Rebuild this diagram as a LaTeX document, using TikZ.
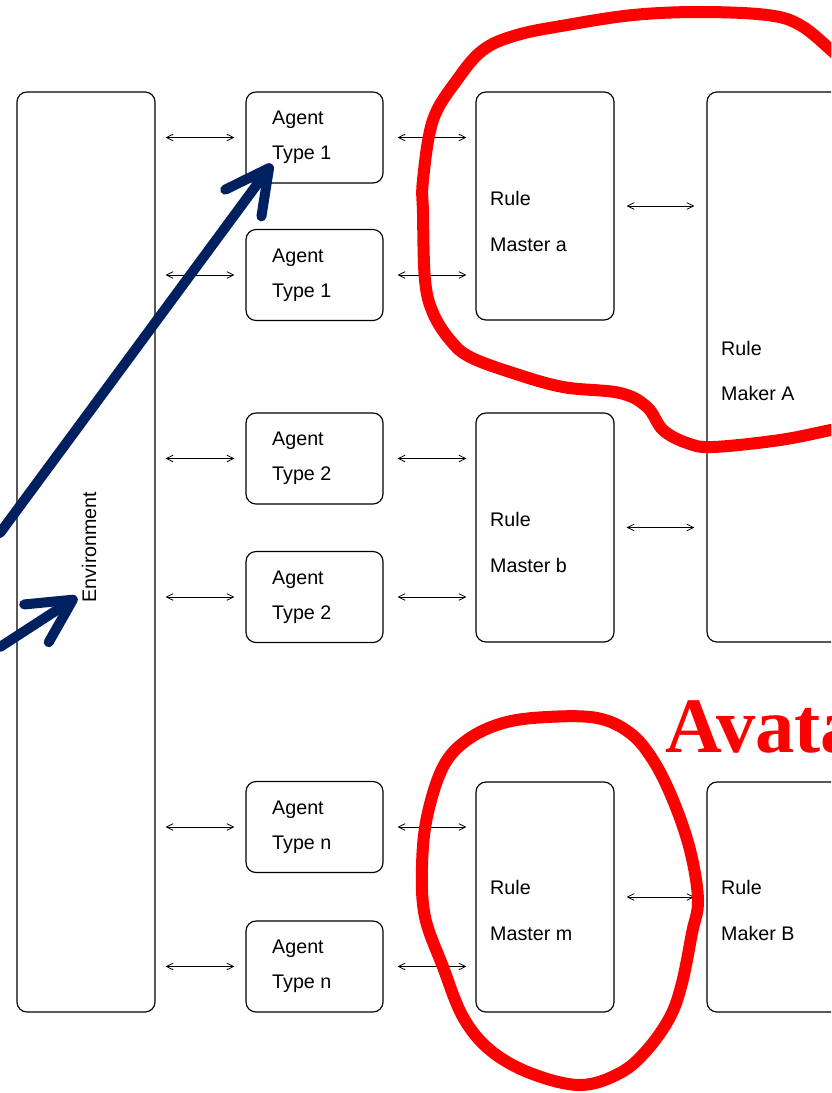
\documentclass[tikz,border=0pt]{standalone}
\usepackage{fontspec}
\setmainfont{Liberation Sans}
\newfontfamily\handfont{Liberation Serif}
\usepackage{tikz}
\usetikzlibrary{positioning}
\usetikzlibrary{arrows.meta}

\definecolor{markred}{RGB}{255,0,0}
\definecolor{penblue}{RGB}{0,32,96}

\begin{document}
\begin{tikzpicture}[x=0.03cm,y=-0.03cm,
    block/.style={draw,line width=1pt,rounded corners=0.3cm,inner sep=0pt},
    agentbox/.style={block,minimum width=4.11cm,minimum height=2.73cm},
    rulebox/.style={block,minimum width=4.14cm},
    link/.style={{Straight Barb[length=0.2cm,width=0.2cm]}-{Straight Barb[length=0.2cm,width=0.2cm]},line width=0.7pt},
    agenttxt/.style={anchor=west,inner sep=0pt,align=left,font=\fontsize{16.8}{30}\selectfont},
    ruletxt/.style={anchor=west,inner sep=0pt,align=left,font=\fontsize{16.8}{38.5}\selectfont},
    pen/.style={penblue,line width=0.3cm,line cap=round,line join=round,-{Straight Barb[length=1.3cm,width=1.35cm,round]}},
    scribble/.style={markred,line width=0.36cm,line cap=round}]
        \useasboundingbox (0,0) rectangle (831,1093);
        \fill[white] (0,0) rectangle (831,1093);
        \clip (0,0) rectangle (831,1093);

        % environment
        \node[block,minimum width=4.14cm,minimum height=27.6cm] (env) at (86,552) {};
        \node[rotate=90,inner sep=1pt,font=\fontsize{16.8}{20}\selectfont] (envtxt) at (89,547) {Environment};

        % agents
        \node[agentbox] (ag1) at (314.5,137.5) {};
        \node[agentbox] (ag2) at (314.5,275) {};
        \node[agentbox] (ag3) at (314.5,458.5) {};
        \node[agentbox] (ag4) at (314.5,597) {};
        \node[agentbox] (ag5) at (314.5,827) {};
        \node[agentbox] (ag6) at (314.5,966.5) {};
        \node[agenttxt] (tag1) at (272,137.5) {Agent\\Type 1};
        \node[agenttxt] (tag2) at (272,275.5) {Agent\\Type 1};
        \node[agenttxt] (tag3) at (272,458.5) {Agent\\Type 2};
        \node[agenttxt] (tag4) at (272,597.5) {Agent\\Type 2};
        \node[agenttxt] (tag5) at (272,827.5) {Agent\\Type n};
        \node[agenttxt] (tag6) at (272,966.5) {Agent\\Type n};

        % rule masters and makers
        \node[rulebox,minimum height=6.84cm] (ma) at (545,206) {};
        \node[rulebox,minimum height=6.87cm] (mb) at (545,527.5) {};
        \node[rulebox,minimum height=6.9cm] (mm) at (545,897) {};
        \node[rulebox,minimum height=16.5cm] (mka) at (776,367) {};
        \node[rulebox,minimum height=6.9cm] (mkb) at (776,897) {};
        \node[ruletxt] (tma) at (490,221.5) {Rule\\Master a};
        \node[ruletxt] (tmb) at (490,542.5) {Rule\\Master b};
        \node[ruletxt] (tmm) at (490,910.5) {Rule\\Master m};
        \node[ruletxt] (tmka) at (721,371) {Rule\\Maker A};
        \node[ruletxt] (tmkb) at (721,910.5) {Rule\\Maker B};

        % links
        \draw[link,shorten <=0.3cm,shorten >=0.33cm] (env.east |- ag1.west) -- (ag1.west);
        \draw[link,shorten <=0.3cm,shorten >=0.33cm] (env.east |- ag2.west) -- (ag2.west);
        \draw[link,shorten <=0.3cm,shorten >=0.33cm] (env.east |- ag3.west) -- (ag3.west);
        \draw[link,shorten <=0.3cm,shorten >=0.33cm] (env.east |- ag4.west) -- (ag4.west);
        \draw[link,shorten <=0.3cm,shorten >=0.33cm] (env.east |- ag5.west) -- (ag5.west);
        \draw[link,shorten <=0.3cm,shorten >=0.33cm] (env.east |- ag6.west) -- (ag6.west);

        \draw[link,shorten <=0.42cm,shorten >=0.27cm] (ag1.east) -- (ag1.east -| ma.west);
        \draw[link,shorten <=0.42cm,shorten >=0.27cm] (ag2.east) -- (ag2.east -| ma.west);
        \draw[link,shorten <=0.42cm,shorten >=0.27cm] (ag3.east) -- (ag3.east -| mb.west);
        \draw[link,shorten <=0.42cm,shorten >=0.27cm] (ag4.east) -- (ag4.east -| mb.west);
        \draw[link,shorten <=0.42cm,shorten >=0.27cm] (ag5.east) -- (ag5.east -| mm.west);
        \draw[link,shorten <=0.42cm,shorten >=0.27cm] (ag6.east) -- (ag6.east -| mm.west);

        \draw[link,shorten <=0.36cm,shorten >=0.36cm] (ma.east) -- (ma.east -| mka.west);
        \draw[link,shorten <=0.36cm,shorten >=0.36cm] (mb.east) -- (mb.east -| mka.west);
        \draw[link,shorten <=0.36cm,shorten >=0.36cm] (mm.east) -- (mkb.west);

        % red marks
        \draw[scribble] plot[smooth,tension=0.6] coordinates {(850,68) (831,50) (800,25) (767,15) (700,12) (633,15) (567,25) (517,35) (483,50) (457,80) (433,120) (423,180) (423,213) (425,280) (433,313) (450,340) (470,357) (513,373) (563,387) (620,393) (647,407) (663,430) (687,443) (713,447) (780,440) (831,430) (850,427)};
        \draw[scribble] plot[smooth cycle,tension=0.6] coordinates {(547,717) (597,718) (630,733) (653,760) (673,800) (690,850) (698,900) (692,933) (682,983) (670,1017) (647,1050) (620,1073) (580,1085) (530,1073) (490,1050) (463,1017) (443,967) (425,917) (422,867) (427,817) (443,767) (467,740) (503,723)};
        \node[anchor=base west,inner sep=0pt,text=markred,font=\handfont\bfseries\fontsize{67}{70}\selectfont] (avatar) at (665,752) {Avata};

        % blue pointers
        \coordinate (p1) at (0,533);
        \coordinate (p2) at (0,647);
        \draw[pen] (p1) -- (tag1.south west);
        \draw[pen] (p2) -- ([xshift=-0.1cm,yshift=0.2cm]envtxt.north west);
      \end{tikzpicture}
\end{document}
